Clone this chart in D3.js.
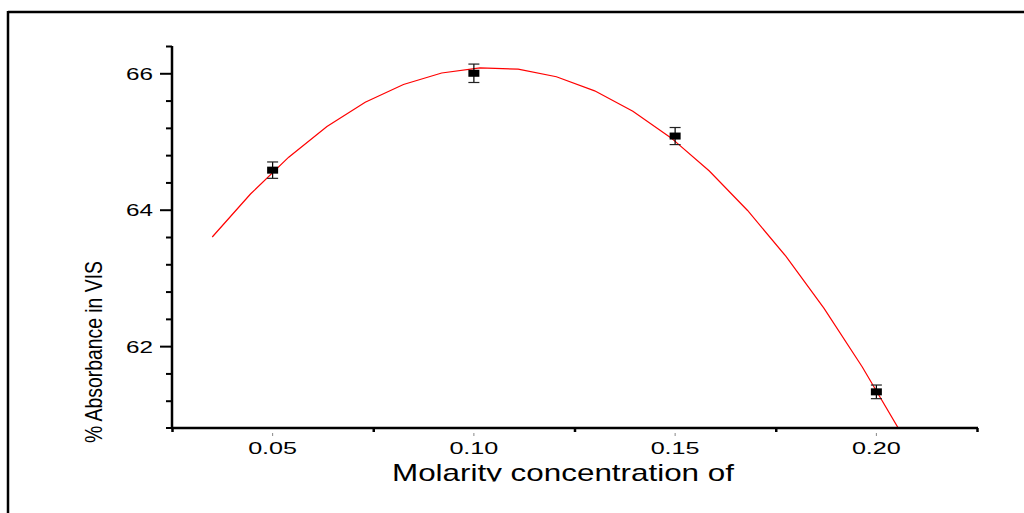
<!DOCTYPE html>
<html><head><meta charset="utf-8">
<script src="https://cdn.jsdelivr.net/npm/d3@7"></script>
<style>html,body{margin:0;padding:0;background:#fff;}svg{display:block;}</style>
</head><body>
<svg id="chart" width="1024" height="513"></svg>
<script>
// data
const pointX = [0.05, 0.10, 0.15, 0.20];
const pointY = [64.58, 66.00, 65.08, 61.33];
const pointErr = [0.12, 0.135, 0.125, 0.10];
const fitX = [0.035,0.0445,0.054,0.0635,0.073,0.0825,0.092,0.1015,0.111,0.1205,0.13,0.1395,0.149,0.1585,0.168,0.1775,0.187,0.1965,0.206,0.2155];
const fitY = [63.60,64.23,64.77,65.22,65.575,65.836,66.004,66.079,66.06,65.949,65.743,65.445,65.053,64.568,63.989,63.318,62.553,61.694,60.742,59.697];
const yMajorTicks = [62, 64, 66];
const yMinorTicks = [61.2, 61.6, 62.4, 62.8, 63.2, 63.6, 64.4, 64.8, 65.2, 65.6, 66.4];
const xLabelTicks = [0.05, 0.10, 0.15, 0.20];
const xTickLabels = ["0.05", "0.10", "0.15", "0.20"];
const xMarkTicks = [0.025, 0.075, 0.125, 0.175, 0.225];
const yLabel = "% Absorbance in VIS";
const xTitle = "Molarity concentration of";

const svg = d3.select("#chart");
const x = d3.scaleLinear().domain([0.025, 0.225]).range([172, 977]);
const y = d3.scaleLinear().domain([60.8, 66.4]).range([428, 46]);
const FONT = "Liberation Sans, Arial, sans-serif";

// frame
svg.append("line").attr("x1", 8).attr("x2", 1024).attr("y1", 12).attr("y2", 12).attr("stroke", "#000").attr("stroke-width", 2.5);
svg.append("line").attr("x1", 8).attr("x2", 8).attr("y1", 11).attr("y2", 513).attr("stroke", "#000").attr("stroke-width", 2.5);

// clip
svg.append("clipPath").attr("id", "plotclip").append("rect")
  .attr("x", x.range()[0]).attr("y", y.range()[1] - 10)
  .attr("width", x.range()[1] - x.range()[0]).attr("height", y.range()[0] - y.range()[1] + 10);
svg.append("clipPath").attr("id", "titleclip").append("rect")
  .attr("x", 0).attr("y", 0).attr("width", 1024).attr("height", 481.5);

// fit line
const fitData = fitX.map((v, i) => [v, fitY[i]]);
svg.append("path").datum(fitData)
  .attr("clip-path", "url(#plotclip)")
  .attr("fill", "none").attr("stroke", "#ff0000").attr("stroke-width", 1.2)
  .attr("d", d3.line().x(d => x(d[0])).y(d => y(d[1])));

// y axis
const yAxisMajor = d3.axisLeft(y).tickValues(yMajorTicks).tickSize(12).tickFormat("");
const yAxisMinor = d3.axisLeft(y).tickValues(yMinorTicks).tickSize(6).tickFormat("");
const gy = svg.append("g").attr("transform", "translate(172,0)");
gy.call(yAxisMinor);
gy.append("g").call(yAxisMajor);
gy.selectAll(".domain").remove();
gy.selectAll("line").attr("stroke", "#000").attr("stroke-width", 2);
svg.append("line").attr("x1", 172).attr("x2", 172).attr("y1", y.range()[1]).attr("y2", y.range()[0] + 1)
  .attr("stroke", "#000").attr("stroke-width", 2.5);
svg.append("line").attr("x1", 166).attr("x2", 172).attr("y1", y.range()[0]).attr("y2", y.range()[0])
  .attr("stroke", "#000").attr("stroke-width", 2);

// y tick labels
svg.selectAll(".ylab").data(yMajorTicks).enter().append("text")
  .attr("x", 153).attr("y", d => y(d) + 6.5)
  .attr("text-anchor", "end")
  .attr("font-family", FONT).attr("font-size", 17)
  .attr("textLength", 27).attr("lengthAdjust", "spacingAndGlyphs")
  .text(d => String(d));

// x axis
const gx = svg.append("g").attr("transform", "translate(0,428)");
gx.call(d3.axisBottom(x).tickValues(xMarkTicks).tickSize(4).tickFormat(""));
gx.selectAll(".domain").remove();
gx.selectAll("line").attr("stroke", "#000").attr("stroke-width", 2.5);
svg.append("line").attr("x1", 171).attr("x2", 978).attr("y1", 428).attr("y2", 428)
  .attr("stroke", "#000").attr("stroke-width", 2.5);
// detached small marks at labelled positions
svg.selectAll(".xmark").data(xLabelTicks).enter().append("line")
  .attr("x1", d => x(d)).attr("x2", d => x(d)).attr("y1", 433).attr("y2", 436)
  .attr("stroke", "#888").attr("stroke-width", 1);

// x tick labels
svg.selectAll(".xlab").data(xLabelTicks).enter().append("text")
  .attr("x", d => x(d)).attr("y", 454)
  .attr("text-anchor", "middle")
  .attr("font-family", FONT).attr("font-size", 17)
  .attr("textLength", 49).attr("lengthAdjust", "spacingAndGlyphs")
  .text((d, i) => xTickLabels[i]);

// titles
svg.append("text")
  .attr("transform", "translate(102,352) rotate(-90)")
  .attr("text-anchor", "middle")
  .attr("font-family", FONT).attr("font-size", 24)
  .attr("textLength", 182).attr("lengthAdjust", "spacingAndGlyphs")
  .text(yLabel);
svg.append("text")
  .attr("clip-path", "url(#titleclip)")
  .attr("x", 563).attr("y", 481)
  .attr("text-anchor", "middle")
  .attr("font-family", FONT).attr("font-size", 24)
  .attr("textLength", 342).attr("lengthAdjust", "spacingAndGlyphs")
  .text(xTitle);

// error bars and points
const pts = pointX.map((v, i) => ({x: v, y: pointY[i], e: pointErr[i]}));
const eg = svg.append("g");
eg.selectAll(".ev").data(pts).enter().append("line")
  .attr("x1", d => x(d.x)).attr("x2", d => x(d.x))
  .attr("y1", d => y(d.y + d.e)).attr("y2", d => y(d.y - d.e))
  .attr("stroke", "#000").attr("stroke-width", 1.2);
eg.selectAll(".et").data(pts).enter().append("line")
  .attr("x1", d => x(d.x) - 5.5).attr("x2", d => x(d.x) + 5.5)
  .attr("y1", d => y(d.y + d.e)).attr("y2", d => y(d.y + d.e))
  .attr("stroke", "#222").attr("stroke-width", 1.2);
eg.selectAll(".eb").data(pts).enter().append("line")
  .attr("x1", d => x(d.x) - 5.5).attr("x2", d => x(d.x) + 5.5)
  .attr("y1", d => y(d.y - d.e)).attr("y2", d => y(d.y - d.e))
  .attr("stroke", "#222").attr("stroke-width", 1.2);
eg.selectAll(".pt").data(pts).enter().append("rect")
  .attr("x", d => x(d.x) - 5.5).attr("y", d => y(d.y) - 3.5)
  .attr("width", 11).attr("height", 7).attr("fill", "#000");
</script>
</body></html>
